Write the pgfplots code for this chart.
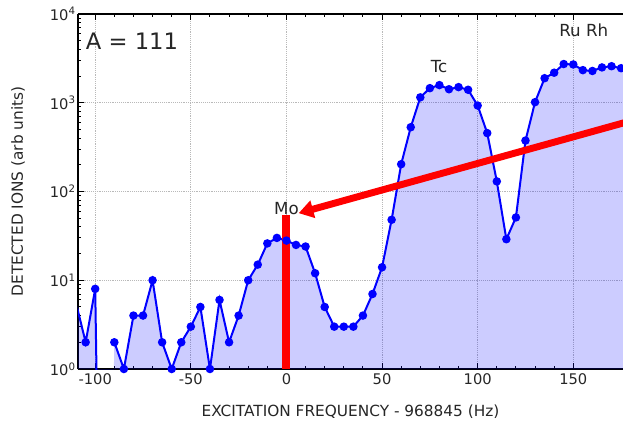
\documentclass[border=0pt]{standalone}
\usepackage{fontspec}
\setmainfont{DejaVu Sans}
\usepackage{pgfplots}
\pgfplotsset{compat=1.18}
\usetikzlibrary{arrows.meta}
\definecolor{txt}{RGB}{38,38,38}
\begin{document}
\begin{tikzpicture}
\begin{axis}[
 scale only axis, width=408.75pt, height=266.25pt,
 xmin=-109, xmax=176, ymode=log, ymin=1, ymax=10000,
 axis y line*=left,
 xtick={-100,-50,0,50,100,150}, xticklabels={-100,-50,0,50,100,150},
 minor x tick num=4,
 ytick={1,10,100,1000,10000},
 yticklabels={10\textsuperscript{0},10\textsuperscript{1},10\textsuperscript{2},10\textsuperscript{3},10\textsuperscript{4}},
 grid=major, major grid style={densely dotted, gray!55, line width=0.6pt},
 minor grid style={draw=none},
 tick label style={font=\fontsize{11}{13}\selectfont, text=txt},
 yticklabel style={inner sep=1.5pt},
 xlabel={EXCITATION FREQUENCY - 968845 (Hz)},
 ylabel={DETECTED IONS (arb units)},
 label style={font=\fontsize{11.5}{13}\selectfont, text=txt},
 xlabel style={at={([yshift=-32.25pt]axis description cs:0.5,0)}, anchor=center},
 ylabel style={at={([xshift=-45pt]axis description cs:0,0.5)}, anchor=center},
 major tick length=4.5pt, minor tick length=2.5pt,
 tick style={black, line width=0.7pt},
 axis line style={black, line width=1.1pt},
]
\addplot[fill=blue, fill opacity=0.2, draw=none, forget plot] coordinates {
(-110,5.5)(-105,2)(-100,8)(-95,1e-6)(-90,2)(-85,1)(-80,4)(-75,4)(-70,10)(-65,2)(-60,1)
(-55,2)(-50,3)(-45,5)(-40,1)(-35,6)(-30,2)(-25,4)(-20,10)(-15,15)(-10,26)(-5,30)
(0,28)(5,25)(10,24)(15,12)(20,5)(25,3)(30,3)(35,3)(40,4)(45,7)(50,14)(55,48)
(60,203)(65,530)(70,1150)(75,1460)(80,1580)(85,1420)(90,1500)(95,1400)(100,930)
(105,455)(110,130)(115,29)(120,51)(125,375)(130,1015)(135,1890)(140,2180)(145,2730)
(150,2700)(155,2330)(160,2280)(165,2500)(170,2580)(175,2450)(180,2450)
} \closedcycle;
\addplot[blue, line width=1.5pt, mark=*, mark size=2.4pt, mark options={fill=blue, draw=blue}] coordinates {
(-110,5.5)(-105,2)(-100,8)};
\addplot[blue, line width=1.5pt] coordinates {(-100,8)(-95,1e-6)};
\addplot[blue, line width=1.5pt, mark=*, mark size=2.4pt, mark options={fill=blue, draw=blue}] coordinates {
(-90,2)(-85,1)(-80,4)(-75,4)(-70,10)(-65,2)(-60,1)
(-55,2)(-50,3)(-45,5)(-40,1)(-35,6)(-30,2)(-25,4)(-20,10)(-15,15)(-10,26)(-5,30)
(0,28)(5,25)(10,24)(15,12)(20,5)(25,3)(30,3)(35,3)(40,4)(45,7)(50,14)(55,48)
(60,203)(65,530)(70,1150)(75,1460)(80,1580)(85,1420)(90,1500)(95,1400)(100,930)
(105,455)(110,130)(115,29)(120,51)(125,375)(130,1015)(135,1890)(140,2180)(145,2730)
(150,2700)(155,2330)(160,2280)(165,2500)(170,2580)(175,2450)(180,2450)};
\addplot[red, line width=6pt] coordinates {(0,1)(0,54.5)};
\addplot[red, line width=5.2pt, -{Triangle[length=11pt,width=13pt]}] coordinates {(200,822)(6.4,57)};
\node[font=\fontsize{12.5}{14}\selectfont, text=txt] at (axis cs:0,64.5) {Mo};
\node[font=\fontsize{12.5}{14}\selectfont, text=txt] at (axis cs:79.8,2540) {Tc};
\node[font=\fontsize{12.5}{14}\selectfont, text=txt] at (axis cs:155.5,6470) {Ru Rh};
\node[font=\fontsize{17}{20}\selectfont, text=txt, anchor=west, inner sep=0pt] at (axis cs:-105,4990) {A = 111};
\end{axis}
\pgfresetboundingbox
\path[use as bounding box] ([xshift=-58.5pt,yshift=-41.25pt]current axis.south west) rectangle ([yshift=10.5pt]current axis.north east);
\end{tikzpicture}
\end{document}
